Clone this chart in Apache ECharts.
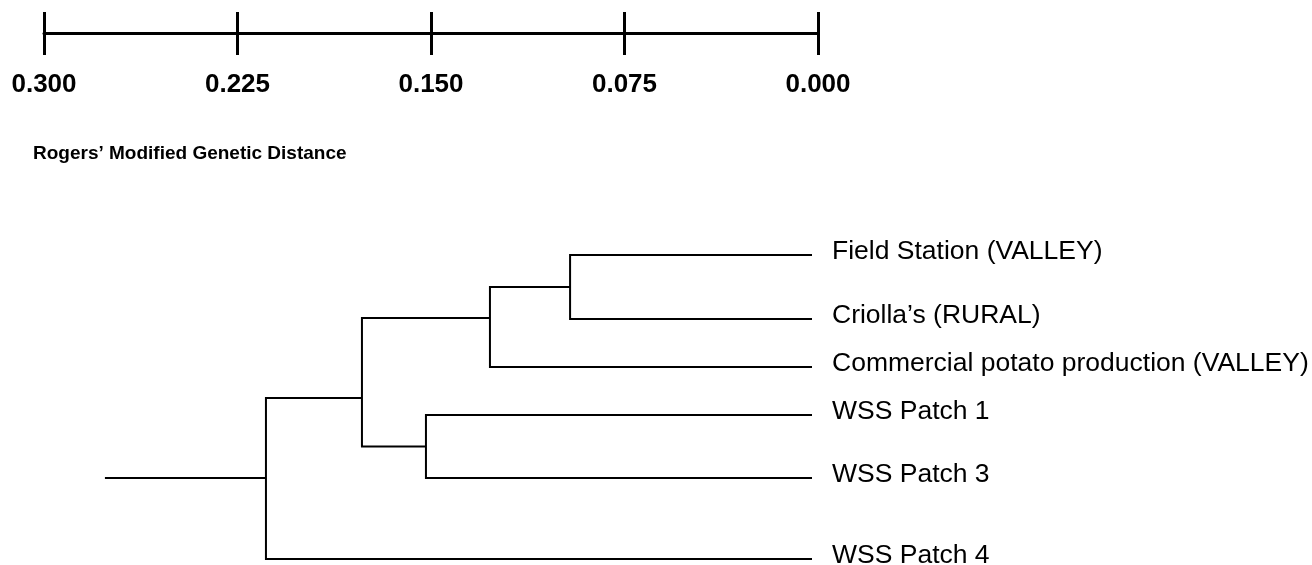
<!DOCTYPE html>
<html>
<head>
<meta charset="utf-8">
<script src="https://cdn.jsdelivr.net/npm/echarts@6/dist/echarts.min.js"></script>
<style>
html,body{margin:0;padding:0;background:#fff;}
#chart{width:1312px;height:565px;}
</style>
</head>
<body>
<div id="chart"></div>
<script>
// ---- data ----
var titleText = "Rogers\u2019 Modified Genetic Distance";
var tickValues = [0.300, 0.225, 0.150, 0.075, 0.000];
var leafNames = ["Field Station (VALLEY)", "Criolla\u2019s (RURAL)", "Commercial potato production (VALLEY)", "WSS Patch 1", "WSS Patch 3", "WSS Patch 4"];
var leafRow = [0, 1.333, 2.333, 3.333, 4.646, 6.333];
var leafDist = [0, 0, 0, 0, 0, 0];
// internal nodes: ids continue after leaves (6,7,8,9,10)
var nodeLeft = [0, 6, 3, 7, 9];
var nodeRight = [1, 2, 4, 8, 5];
var nodeDist = [0.0945, 0.1258, 0.1508, 0.1758, 0.2133];
var nodeRow = [0.667, 1.313, 3.99, 2.979, 4.646];
var rootStemDist = 0.2762;

// ---- build ----
var allDist = leafDist.concat(nodeDist);
var allRow = leafRow.concat(nodeRow);
var segs = [];
for (var i = 0; i < nodeDist.length; i++) {
  var a = nodeLeft[i], b = nodeRight[i], d = nodeDist[i];
  segs.push({coords: [[allDist[a], allRow[a]], [d, allRow[a]], [d, allRow[b]], [allDist[b], allRow[b]]]});
}
var rootId = allDist.length - 1;
segs.push({coords: [[rootStemDist, allRow[rootId]], [allDist[rootId], allRow[rootId]]]});

var leafPts = leafNames.map(function (n, i) { return {name: n, value: [leafDist[i], leafRow[i]]}; });

var FONT = "'Liberation Sans', Arial, Helvetica, sans-serif";
var chart = echarts.init(document.getElementById('chart'), null, {renderer: 'canvas'});
chart.setOption({
  backgroundColor: '#fff',
  animation: false,
  title: {
    text: titleText, left: 28, top: 139,
    textStyle: {fontFamily: FONT, fontWeight: 'bold', fontSize: 19, color: '#000'}
  },
  grid: [
    {left: 44, right: 1312 - 818, top: 12, height: 43, containLabel: false},
    {left: 44, right: 1312 - 812, top: 255, height: 304, containLabel: false}
  ],
  xAxis: [
    {
      gridIndex: 0, type: 'value', min: 0, max: 0.3, interval: 0.075, inverse: true,
      axisLine: {show: true, onZero: true, lineStyle: {color: '#000', width: 3}},
      axisTick: {show: false},
      splitLine: {show: true, showMinLine: true, showMaxLine: true, lineStyle: {color: '#000', width: 3}},
      axisLabel: {
        show: true, margin: 17, showMinLabel: true, showMaxLabel: true,
        fontFamily: FONT,
        fontWeight: 'bold', fontSize: 26, color: '#000',
        formatter: function (v) { return v.toFixed(3); }
      }
    },
    {gridIndex: 1, type: 'value', min: 0, max: 0.3, inverse: true, show: false}
  ],
  yAxis: [
    {gridIndex: 0, type: 'value', min: -1, max: 1, show: false},
    {gridIndex: 1, type: 'value', min: 0, max: 6.333, inverse: true, show: false}
  ],
  series: [
    {
      type: 'lines', coordinateSystem: 'cartesian2d', xAxisIndex: 1, yAxisIndex: 1,
      polyline: true, silent: true,
      lineStyle: {color: '#000', width: 2, opacity: 1},
      data: segs
    },
    {
      type: 'scatter', xAxisIndex: 1, yAxisIndex: 1, symbolSize: 0, silent: true,
      itemStyle: {opacity: 1, color: '#000'},
      label: {
        show: true, position: 'right', distance: 20, offset: [0, -3], opacity: 1,
        formatter: '{b}', fontFamily: FONT, fontSize: 26.5, color: '#000'
      },
      data: leafPts
    }
  ]
});
</script>
</body>
</html>
